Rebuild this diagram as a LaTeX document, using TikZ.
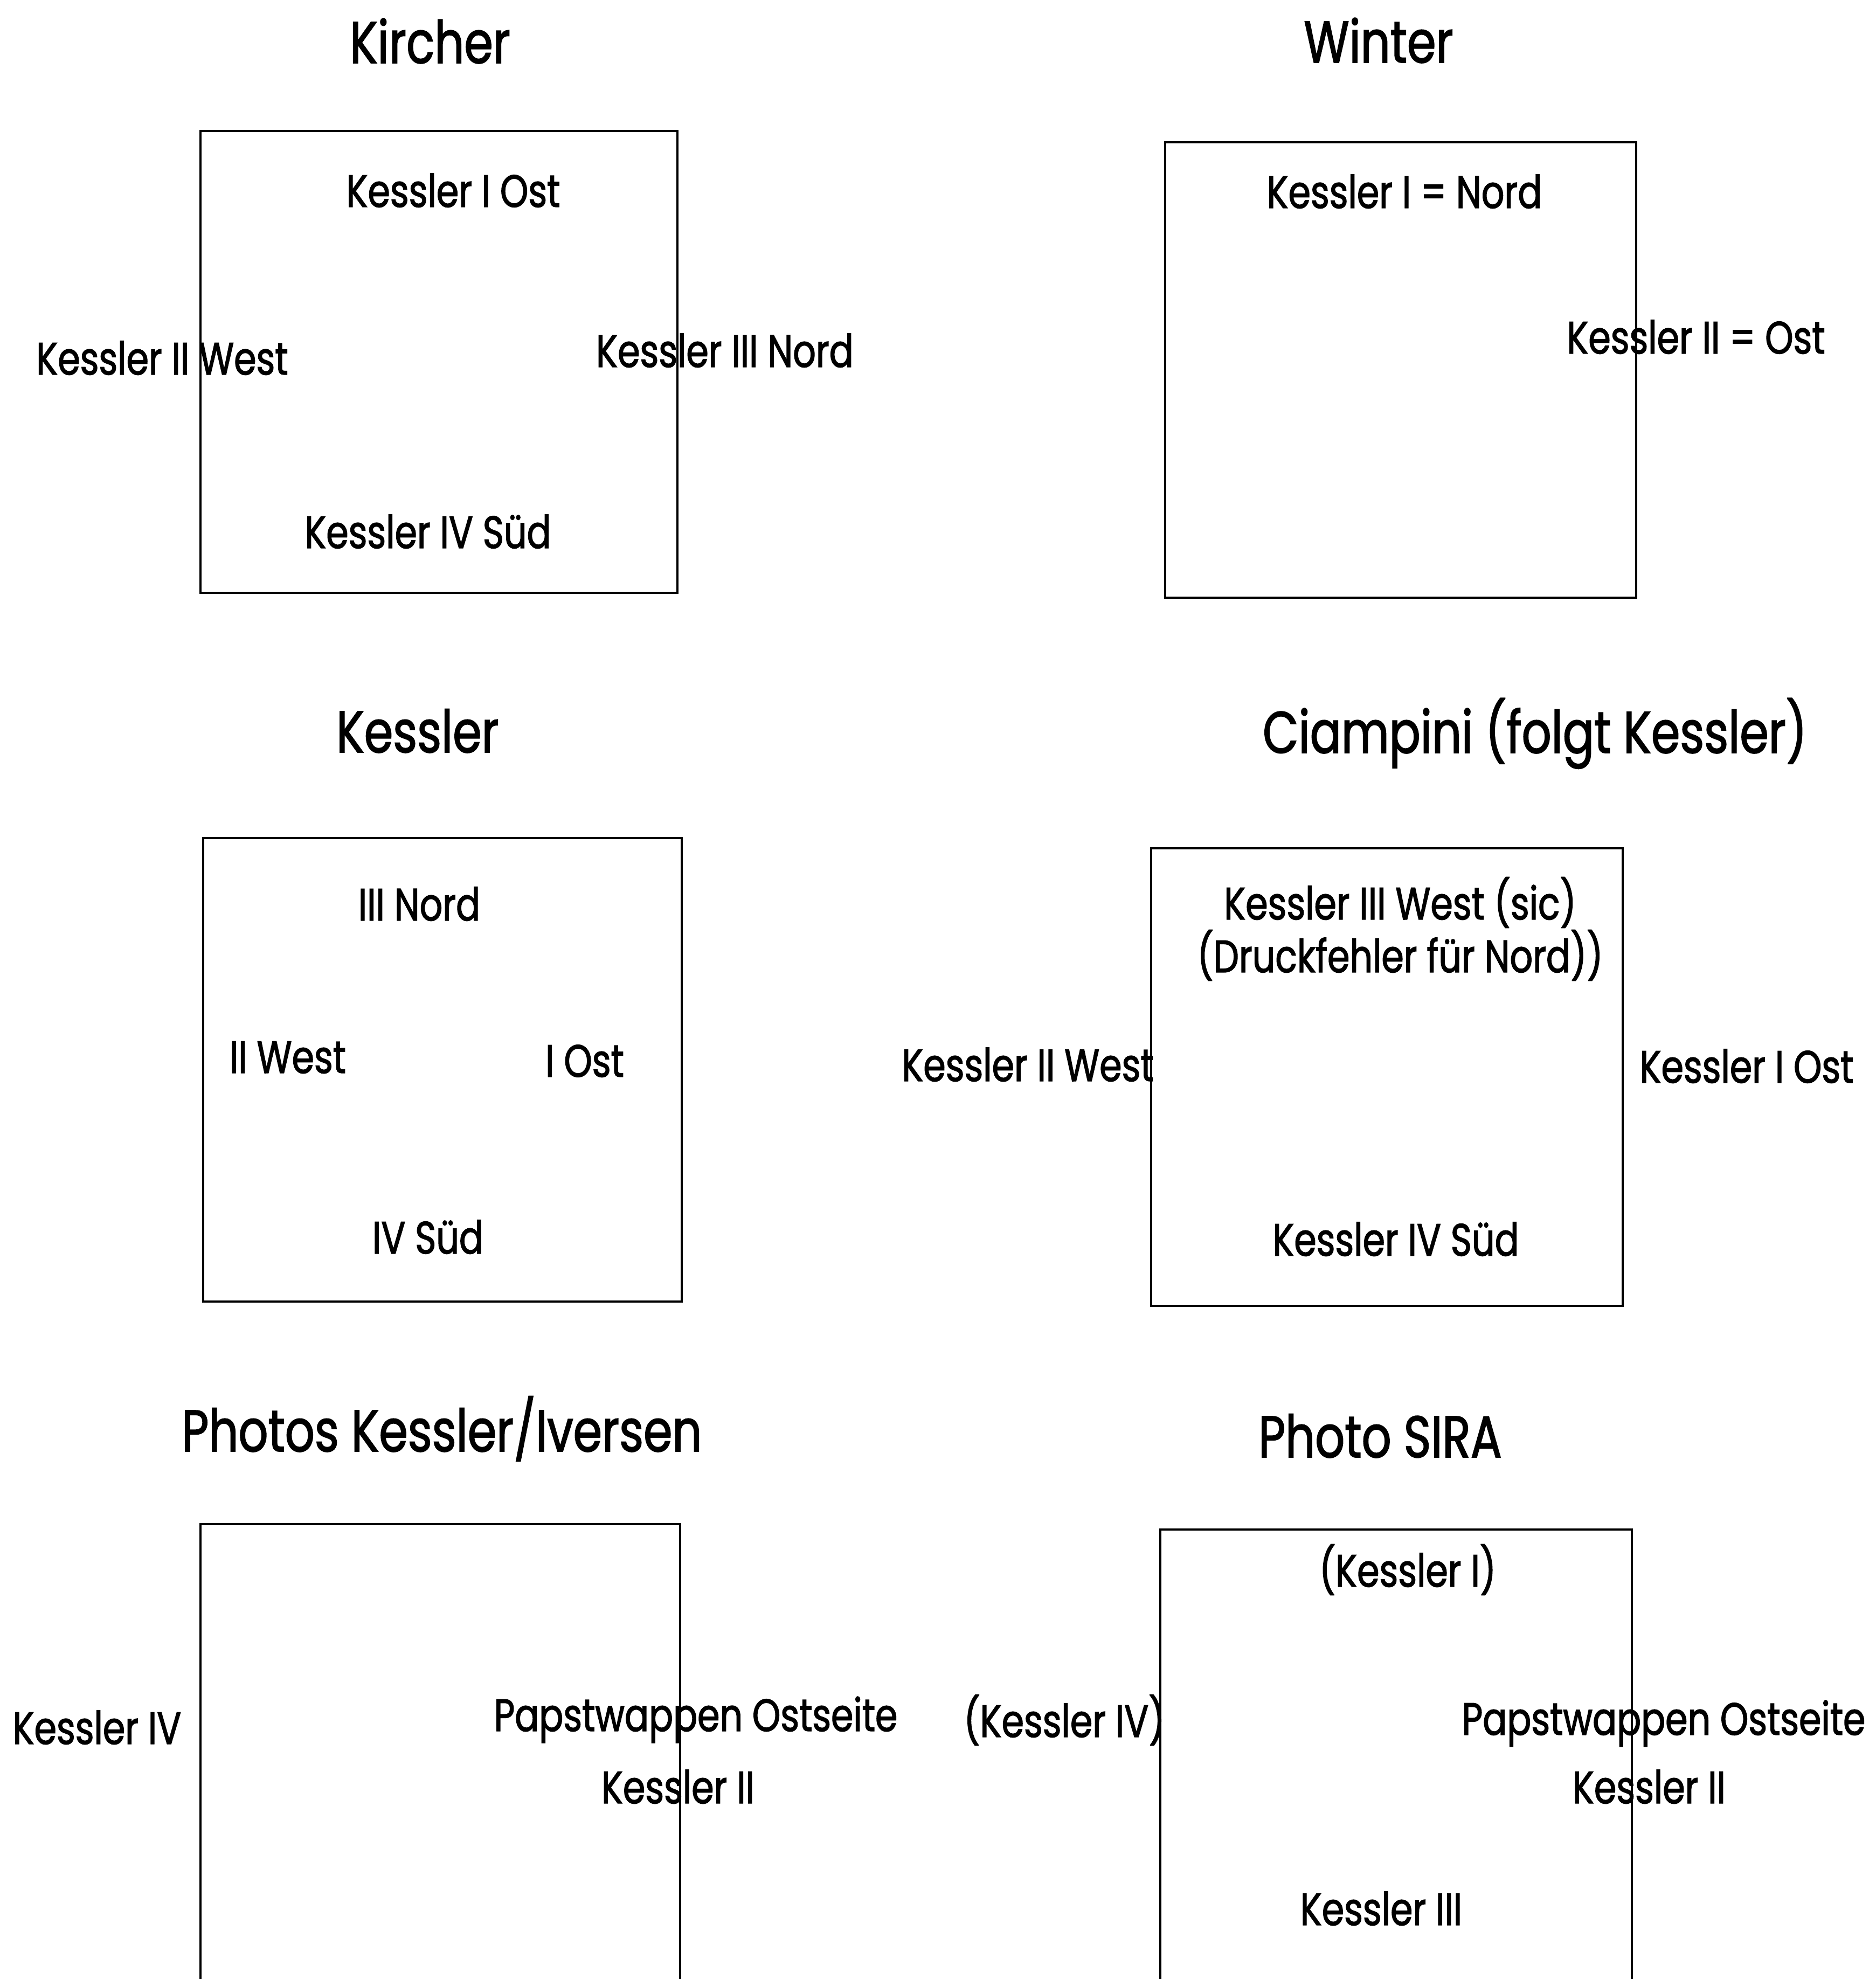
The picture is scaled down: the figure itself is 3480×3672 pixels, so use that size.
\documentclass[tikz,border=0pt]{standalone}
\usepackage{fontspec}
\setmainfont{Poppins}[FakeStretch=0.79,FakeBold=1.6]
\usepackage{tikz}

\begin{document}
\begin{tikzpicture}[x=0.1mm,y=-0.1mm,
    heading/.style={anchor=base,inner sep=0pt,font=\fontsize{31pt}{36pt}\selectfont},
    side/.style={anchor=base,inner sep=0pt,align=center,
      font=\fontsize{24pt}{25pt}\selectfont},
    plan/.style={draw=black,line width=1pt}]
    \useasboundingbox (0,0) rectangle (3480,3672);
    % Kircher
    \draw[plan] (372,243) rectangle (1257,1100);
    \node[heading] (kircher) at (798,117) {Kircher};
    \node[side] (kircher-i) at (841,384) {Kessler I Ost};
    \node[side] (kircher-ii) at (301,695) {Kessler II West};
    \node[side] (kircher-iii) at (1345,681) {Kessler III Nord};
    \node[side] (kircher-iv) at (794,1017) {Kessler IV Süd};
    % Winter
    \draw[plan] (2162,264) rectangle (3036,1109);
    \node[heading] (winter) at (2558,116) {Winter};
    \node[side] (winter-i) at (2606,386) {Kessler I = Nord};
    \node[side] (winter-ii) at (3147,656) {Kessler II = Ost};
    % Kessler
    \draw[plan] (377,1555) rectangle (1265,2415);
    \node[heading] (kessler) at (775,1396) {Kessler};
    \node[side] (kessler-iii) at (778,1708) {III Nord};
    \node[side] (kessler-ii) at (534,1991) {II West};
    \node[side] (kessler-i) at (1085,1998) {I Ost};
    \node[side] (kessler-iv) at (794,2326) {IV Süd};
    % Ciampini
    \draw[plan] (2136,1574) rectangle (3011,2423);
    \node[heading] (ciampini) at (2848,1397) {Ciampini (folgt Kessler)};
    \node[side] (ciampini-iii) at (2598,1804)
      {Kessler III West (sic)\\(Druckfehler für Nord))};
    \node[side] (ciampini-ii) at (1907,2006) {Kessler II West};
    \node[side] (ciampini-i) at (3241,2009) {Kessler I Ost};
    \node[side] (ciampini-iv) at (2590,2330) {Kessler IV Süd};
    % Photos Kessler/Iversen
    \draw[plan] (372,3680) -- (372,2828) -- (1262,2828) -- (1262,3680);
    \node[heading] (photos) at (820,2693) {Photos Kessler/Iversen};
    \node[side] (photos-iv) at (180,3236) {Kessler IV};
    \node[side] (photos-wappen) at (1291,3212) {Papstwappen Ostseite};
    \node[side] (photos-ii) at (1258,3346) {Kessler II};
    % Photo SIRA
    \draw[plan] (2153,3680) -- (2153,2838) -- (3028,2838) -- (3028,3680);
    \node[heading] (sira) at (2561,2704) {Photo SIRA};
    \node[side] (sira-i) at (2612,2944) {(Kessler I)};
    \node[side] (sira-iv) at (1975,3223) {(Kessler IV)};
    \node[side] (sira-wappen) at (3087,3219) {Papstwappen Ostseite};
    \node[side] (sira-ii) at (3060,3346) {Kessler II};
    \node[side] (sira-iii) at (2563,3572) {Kessler III};
  \end{tikzpicture}
\end{document}
